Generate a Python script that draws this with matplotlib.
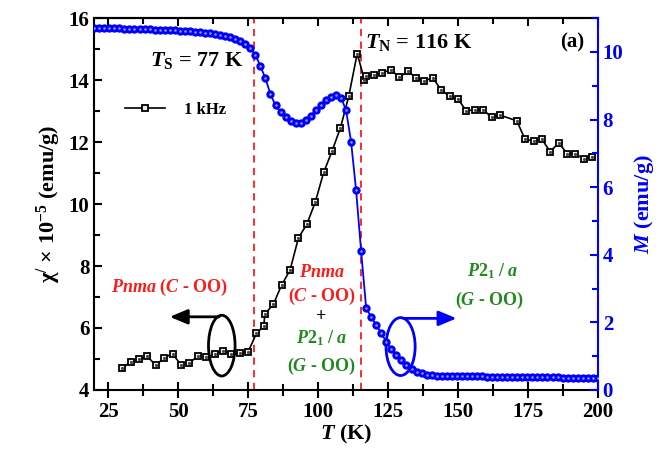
import matplotlib
matplotlib.use('Agg')
import matplotlib.pyplot as plt
from matplotlib.patches import Ellipse
from matplotlib.ticker import MultipleLocator

plt.rcParams['font.family'] = 'Liberation Serif'
plt.rcParams['font.weight'] = 'bold'
plt.rcParams['axes.labelweight'] = 'bold'
plt.rcParams['mathtext.fontset'] = 'custom'
plt.rcParams['mathtext.rm'] = 'Liberation Serif:bold'
plt.rcParams['mathtext.bf'] = 'Liberation Serif:bold'
plt.rcParams['mathtext.it'] = 'Liberation Serif:italic:bold'

# ac susceptibility, 1 kHz (left axis)
T_chi = [30, 33, 36, 39, 42, 45, 48, 51, 54, 57, 60, 63, 66, 69, 72, 75, 78, 80.6, 81,
         84, 87, 90, 93, 96, 99, 102, 105, 108, 111, 114, 116.6, 117, 120, 123, 126,
         129, 132, 135, 138, 141, 144, 147, 150, 153, 156, 159, 162, 165, 171, 174,
         177, 180, 183, 186, 189, 192, 195, 198]
chi = [4.70, 4.91, 4.99, 5.09, 4.79, 5.04, 5.17, 4.81, 4.87, 5.09, 5.05, 5.15, 5.26,
       5.15, 5.18, 5.23, 5.83, 6.06, 6.45, 6.76, 7.39, 7.87, 8.91, 9.35, 10.06, 11.02,
       11.71, 12.46, 13.49, 14.86, 14.00, 14.13, 14.16, 14.24, 14.34, 14.09, 14.29,
       14.08, 13.98, 14.08, 13.68, 13.49, 13.39, 13.01, 13.05, 13.05, 12.80, 12.87,
       12.69, 12.09, 12.04, 12.09, 11.69, 11.98, 11.63, 11.62, 11.45, 11.53]

# magnetization (right axis)
T_M = [20.0, 21.8, 23.6, 25.4, 27.2, 29.0, 30.8, 32.6, 34.4, 36.2, 38.0, 39.8, 41.6,
       43.4, 45.2, 47.0, 48.8, 50.6, 52.4, 54.2, 56.0, 57.8, 59.6, 61.4, 63.2, 65.0,
       66.8, 68.6, 70.4, 72.2, 74.0, 75.8, 77.6, 79.4, 81.2, 83.0, 84.8, 86.6, 88.4,
       90.2, 92.0, 93.8, 95.6, 97.4, 99.2, 101.0, 102.8, 104.6, 106.4, 108.2, 110.0,
       111.8, 113.6, 115.4, 117.2, 119.0, 120.8, 122.6, 124.4, 126.2, 128.0, 129.8,
       131.6, 133.4, 135.2, 137.0, 138.8, 140.6, 142.4, 144.2, 146.0, 147.8, 149.6,
       151.4, 153.2, 155.0, 156.8, 158.6, 160.4, 162.2, 164.0, 165.8, 167.6, 169.4,
       171.2, 173.0, 174.8, 176.6, 178.4, 180.2, 182.0, 183.8, 185.6, 187.4, 189.2,
       191.0, 192.8, 194.6, 196.4, 198.2, 200.0]
M = [10.72, 10.72, 10.71, 10.71, 10.70, 10.70, 10.69, 10.69, 10.68, 10.68, 10.67,
     10.67, 10.66, 10.66, 10.65, 10.64, 10.64, 10.63, 10.62, 10.61, 10.60, 10.59,
     10.57, 10.55, 10.53, 10.50, 10.47, 10.43, 10.38, 10.32, 10.24, 10.12, 9.92, 9.58,
     9.22, 8.75, 8.42, 8.23, 8.08, 7.97, 7.91, 7.91, 7.99, 8.12, 8.27, 8.42, 8.57,
     8.68, 8.72, 8.65, 8.28, 7.35, 5.91, 4.10, 2.42, 2.16, 1.92, 1.68, 1.42, 1.20,
     1.04, 0.88, 0.73, 0.62, 0.54, 0.49, 0.45, 0.43, 0.42, 0.42, 0.42, 0.41, 0.41,
     0.41, 0.40, 0.40, 0.40, 0.40, 0.39, 0.39, 0.39, 0.39, 0.39, 0.38, 0.38, 0.38,
     0.38, 0.38, 0.37, 0.37, 0.37, 0.37, 0.37, 0.36, 0.36, 0.36, 0.36, 0.36, 0.35,
     0.35, 0.35]

T_S = 77
T_N = 115.5

red = '#ff1a1a'
green = '#1f8a1f'

fig = plt.figure(figsize=(6.68, 4.55), dpi=100)
ax = fig.add_axes([0.141, 0.143, 0.754, 0.817])
ax2 = ax.twinx()

# data
ax.plot(T_chi, chi, '-s', color='black', lw=1.2, ms=4.8, mfc='#eeeeee', mec='black',
        mew=1.3, label='1 kHz', zorder=4)
ax.plot(T_chi, chi, 's', color='#444444', ms=1.1, zorder=5)
ax2.plot(T_M, M, '-o', color='blue', lw=1.3, ms=5, mfc='blue', mec='blue', zorder=3)
ax2.plot(T_M, M, 'o', color='#9a9aff', ms=1.8, mew=0, zorder=4)

for t in (T_S, T_N):
    ax.axvline(t, color=red, lw=1.3, ls=(0, (4, 3)), zorder=1)

ax.set_xlim(20, 200)
ax.set_ylim(4, 16)
ax2.set_ylim(0, 11)

ax.xaxis.set_major_locator(MultipleLocator(25))
ax.xaxis.set_minor_locator(MultipleLocator(12.5))
ax.yaxis.set_major_locator(MultipleLocator(2))
ax.yaxis.set_minor_locator(MultipleLocator(1))
ax2.yaxis.set_major_locator(MultipleLocator(2))
ax2.yaxis.set_minor_locator(MultipleLocator(1))

ax.tick_params(axis='x', which='major', direction='inout', length=11, width=1.5,
               labelsize=15, pad=3)
ax.tick_params(axis='x', which='minor', direction='inout', length=8, width=1.5)
ax.tick_params(axis='y', which='major', direction='in', length=6, width=1.5,
               labelsize=15, right=False)
ax.tick_params(axis='y', which='minor', direction='in', length=4, width=1.5, right=False)
ax2.tick_params(axis='y', which='major', direction='in', length=6, width=1.5,
                labelsize=15, colors='blue')
ax2.tick_params(axis='y', which='minor', direction='in', length=4, width=1.5, colors='blue')

top = ax.secondary_xaxis('top')
top.xaxis.set_major_locator(MultipleLocator(25))
top.xaxis.set_minor_locator(MultipleLocator(12.5))
top.tick_params(which='major', direction='in', length=6, width=1.5, labeltop=False)
top.tick_params(which='minor', direction='in', length=4, width=1.5)
top.spines['top'].set_linewidth(1.5)

for s in ax.spines.values():
    s.set_linewidth(1.5)
ax.spines['right'].set_visible(False)
ax2.spines['right'].set_color('blue')
ax2.spines['right'].set_linewidth(1.5)
ax2.spines['left'].set_visible(False)
ax2.spines['top'].set_visible(False)
ax2.spines['bottom'].set_visible(False)

ax.set_xlabel(r'$T$ (K)', fontsize=16, labelpad=1)
ax.set_ylabel('χ$^{\\mathrm{/}}$ × 10$^{\\mathrm{-5}}$ (emu/g)', fontsize=16, labelpad=4)
ax2.set_ylabel(r'$M$ (emu/g)', fontsize=16, color='blue', labelpad=6)

# annotations
ax.text(40, 14.65, r'$T_{\mathrm{S}}$ = 77 K', fontsize=16, va='center', ha='left')
ax.text(116.8, 15.2, r'$T_{\mathrm{N}}$ = 116 K', fontsize=16, va='center', ha='left')
ax.text(195, 15.2, '(a)', fontsize=15, va='center', ha='right')

ax.text(46.8, 7.32, r'$Pnma$ ($C$ - OO)', fontsize=13, color=red, ha='center', va='center')
ax.text(101.3, 7.78, r'$Pnma$', fontsize=13, color=red, ha='center', va='center')
ax.text(101.3, 7.01, r'($C$ - OO)', fontsize=13, color=red, ha='center', va='center')
ax.text(101.3, 6.36, '+', fontsize=13, color='black', ha='center', va='center')
ax.text(101.3, 5.67, r'$P\mathrm{2}_{1}$ / $a$', fontsize=13, color=green, ha='center', va='center')
ax.text(101.3, 4.75, r'($G$ - OO)', fontsize=13, color=green, ha='center', va='center')
ax.text(162.3, 7.82, r'$P\mathrm{2}_{1}$ / $a$', fontsize=13, color=green, ha='center', va='center')
ax.text(161.4, 6.9, r'($G$ - OO)', fontsize=13, color=green, ha='center', va='center')

ax.add_patch(Ellipse((65.6, 5.43), 9.5, 1.96, fill=False, ec='black', lw=2, zorder=6))
ax.annotate('', xy=(46.0, 6.36), xytext=(65.6, 6.36),
            arrowprops=dict(arrowstyle='-|>,head_length=0.6,head_width=0.25', color='black',
                            lw=2, mutation_scale=18))
ax.add_patch(Ellipse((129.5, 5.40), 10.4, 1.87, fill=False, ec='blue', lw=2, zorder=6))
ax.annotate('', xy=(150.5, 6.31), xytext=(129.5, 6.31),
            arrowprops=dict(arrowstyle='-|>,head_length=0.6,head_width=0.25', color='blue',
                            lw=2, mutation_scale=18))

ax.legend(loc='center left', bbox_to_anchor=(0.045, 0.753), frameon=False, fontsize=12,
          handlelength=2.4, handletextpad=1.1, borderpad=0)

fig.savefig('out.png', dpi=100)
